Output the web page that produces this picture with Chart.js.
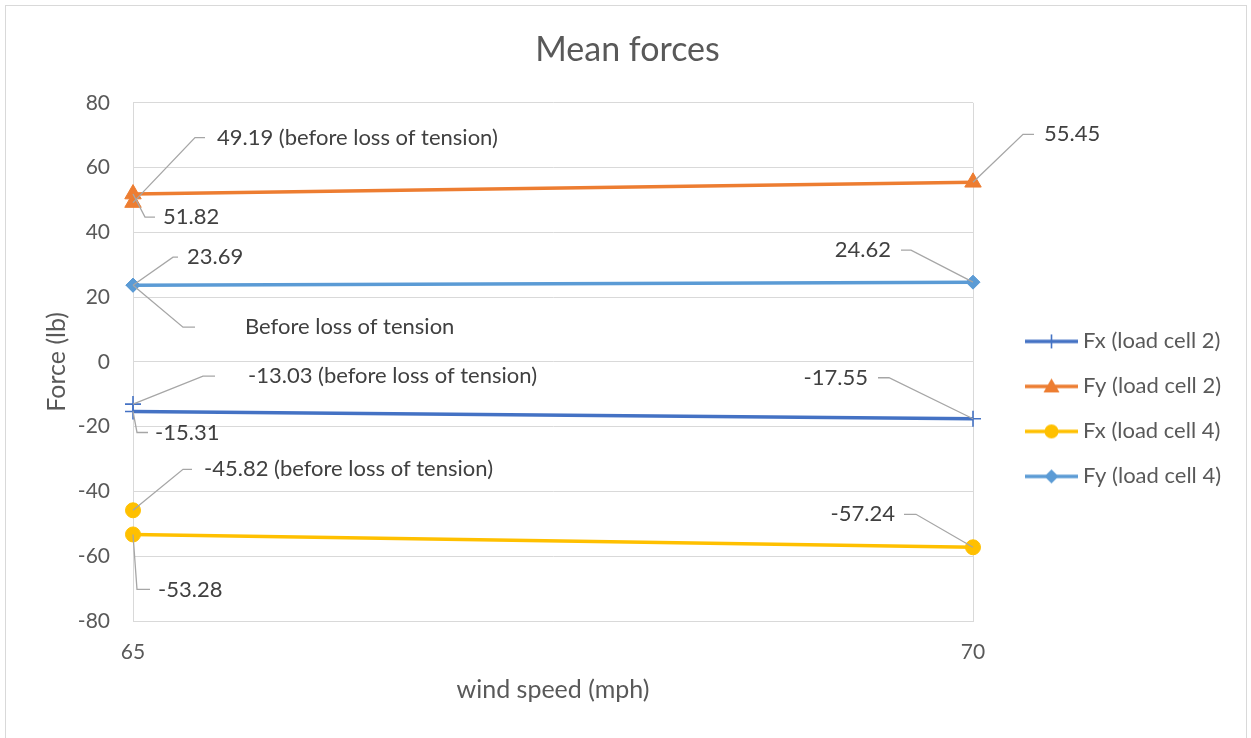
<!DOCTYPE html>
<html>
<head>
<meta charset="utf-8">
<script src="https://cdn.jsdelivr.net/npm/chart.js@4.4.1/dist/chart.umd.min.js"></script>
<style>
  html, body { margin: 0; padding: 0; background: #ffffff; }
  #wrap { width: 1251px; height: 738px; }
</style>
</head>
<body>
<div id="wrap"><canvas id="myChart" width="1251" height="738"></canvas></div>
<script>
//x categories (wind speed, mph)
const windSpeeds = ['65', '70'];

//Mean forces (lb) for each series
const fxCell2 = [-15.31, -17.55];
const fyCell2 = [51.82, 55.45];
const fxCell4 = [-53.28, -57.24];
const fyCell4 = [23.69, 24.62];

//Extra points measured before loss of tension (only at 65 mph)
const fxCell2Before = [-13.03, null];
const fyCell2Before = [49.19, null];
const fxCell4Before = [-45.82, null];
const fyCell4Before = [23.69, null];

//y axis range
const yMin = -80;
const yMax = 80;
const yStep = 20;

const FONT = "Lato, 'Open Sans', sans-serif";
const TEXT = '#404040';
const GREY = '#595959';
const GRID = '#d9d9d9';

//Series styling
const seriesStyle = {
    fx2: { color: '#4472C4', point: 'cross', radius: 8, pointBorder: 1.6 },
    fy2: { color: '#ED7D31', point: 'triangle', radius: 9.5, pointBorder: 1 },
    fx4: { color: '#FFC000', point: 'circle', radius: 7.5, pointBorder: 1 },
    fy4: { color: '#5B9BD5', point: 'rectRot', radius: 7, pointBorder: 1 }
};

function makeDataset(label, key, values, isBefore)
{
    const s = seriesStyle[key];
    return {
        label: label,
        key: key + (isBefore ? 'b' : ''),
        hideInLegend: isBefore,
        data: values,
        showLine: !isBefore,
        borderColor: s.color,
        backgroundColor: s.color,
        borderWidth: 3.5,
        pointStyle: s.point,
        pointRadius: s.radius,
        pointHoverRadius: s.radius,
        pointBorderWidth: s.pointBorder,
        pointBorderColor: s.color,
        pointBackgroundColor: s.color,
        tension: 0
    };
}

//Leader-line labels: where each elbow and text sit relative to its point
const leaderLabels = [
    { key: 'fy2b', i: 0, ex: 62, ey: -65, hx: 10, gap: 12, suffix: ' (before loss of tension)' },
    { key: 'fy2',  i: 0, ex: 12, ey: 23,  hx: 10, gap: 8 },
    { key: 'fy4',  i: 0, ex: 40, ey: -28, hx: 5,  gap: 9 },
    { key: 'fy4b', i: 0, ex: 50, ey: 42,  hx: 12, gap: 50, text: 'Before loss of tension' },
    { key: 'fx2b', i: 0, ex: 70, ey: -28, hx: 12, gap: 33, suffix: ' (before loss of tension)' },
    { key: 'fx2',  i: 0, ex: 4,  ey: 21,  hx: 11, gap: 7 },
    { key: 'fx4b', i: 0, ex: 50, ey: -41, hx: 9,  gap: 12, suffix: ' (before loss of tension)' },
    { key: 'fx4',  i: 0, ex: 4,  ey: 55,  hx: 13, gap: 8 },
    { key: 'fy2',  i: 1, ex: 50, ey: -48, hx: 11, gap: 10 },
    { key: 'fy4',  i: 1, ex: -62, ey: -32, hx: -10, gap: 10 },
    { key: 'fx2',  i: 1, ex: -84, ey: -41, hx: -11, gap: 10 },
    { key: 'fx4',  i: 1, ex: -57, ey: -33, hx: -12, gap: 9 }
];

//Build a small line+marker icon for the legend
function legendIcon(key)
{
    const s = seriesStyle[key];
    const c = document.createElement('canvas');
    c.width = 88;
    c.height = 22;
    const g = c.getContext('2d');
    const cy = 11, x0 = 35, x1 = 88, cx = (x0 + x1) / 2;
    g.strokeStyle = s.color;
    g.fillStyle = s.color;
    g.lineWidth = 3.5;
    g.beginPath();
    g.moveTo(x0, cy);
    g.lineTo(x1, cy);
    g.stroke();
    g.beginPath();
    if (s.point == 'cross')
    {
        g.lineWidth = 1.6;
        g.moveTo(cx, cy - 7);
        g.lineTo(cx, cy + 7);
        g.stroke();
    }
    else if (s.point == 'triangle')
    {
        g.moveTo(cx, cy - 8);
        g.lineTo(cx + 8, cy + 6);
        g.lineTo(cx - 8, cy + 6);
        g.closePath();
        g.fill();
    }
    else if (s.point == 'circle')
    {
        g.arc(cx, cy, 7, 0, Math.PI * 2);
        g.fill();
    }
    else
    {
        g.moveTo(cx, cy - 7);
        g.lineTo(cx + 7, cy);
        g.lineTo(cx, cy + 7);
        g.lineTo(cx - 7, cy);
        g.closePath();
        g.fill();
    }
    return c;
}

//Draws the leader lines and data labels
const leaderPlugin = {
    id: 'leaderLabels',
    afterDatasetsDraw(chart)
    {
        const ctx = chart.ctx;
        ctx.save();
        ctx.font = '22px ' + FONT;
        ctx.textBaseline = 'middle';
        leaderLabels.forEach(l => {
            const dsIndex = chart.data.datasets.findIndex(d => d.key == l.key);
            const el = chart.getDatasetMeta(dsIndex).data[l.i];
            const value = chart.data.datasets[dsIndex].data[l.i];
            const px = el.x, py = el.y;
            const ex = px + l.ex, ey = py + l.ey;
            const hx = ex + l.hx;
            ctx.strokeStyle = '#a6a6a6';
            ctx.lineWidth = 1.3;
            ctx.beginPath();
            ctx.moveTo(px, py);
            ctx.lineTo(ex, ey);
            ctx.lineTo(hx, ey);
            ctx.stroke();
            const txt = l.text ? l.text : value.toFixed(2) + (l.suffix || '');
            ctx.fillStyle = TEXT;
            if (l.hx >= 0)
            {
                ctx.textAlign = 'left';
                ctx.fillText(txt, hx + l.gap, ey);
            }
            else
            {
                ctx.textAlign = 'right';
                ctx.fillText(txt, hx - l.gap, ey);
            }
        });
        ctx.restore();
    }
};

//White background and thin outer frame
const framePlugin = {
    id: 'frame',
    beforeDraw(chart)
    {
        const ctx = chart.ctx;
        ctx.save();
        ctx.fillStyle = '#ffffff';
        ctx.fillRect(0, 0, chart.width, chart.height);
        ctx.strokeStyle = GRID;
        ctx.lineWidth = 1;
        ctx.strokeRect(5.5, 5.5, 1241, 745);
        ctx.restore();
    }
};

myChart();

function myChart()
{
    Chart.defaults.font.family = FONT;

    const ctx = document.getElementById('myChart').getContext('2d');

    const datasets = [
        makeDataset('Fx (load cell 2)', 'fx2', fxCell2, false),
        makeDataset('Fy (load cell 2)', 'fy2', fyCell2, false),
        makeDataset('Fx (load cell 4)', 'fx4', fxCell4, false),
        makeDataset('Fy (load cell 4)', 'fy4', fyCell4, false),
        makeDataset('Fx (load cell 2)', 'fx2', fxCell2Before, true),
        makeDataset('Fy (load cell 2)', 'fy2', fyCell2Before, true),
        makeDataset('Fx (load cell 4)', 'fx4', fxCell4Before, true),
        makeDataset('Fy (load cell 4)', 'fy4', fyCell4Before, true)
    ];

    const icons = datasets.map(d => legendIcon(d.key.replace('b', '')));

    new Chart(ctx, {
        type: 'line',
        data: {
            labels: windSpeeds,
            datasets: datasets
        },
        plugins: [framePlugin, leaderPlugin],
        options: {
            responsive: false,
            animation: false,
            events: [],
            layout: {
                padding: { left: 30, right: 26, top: 0, bottom: 0 }
            },
            scales: {
                x: {
                    type: 'category',
                    offset: false,
                    grid: { color: GRID, lineWidth: 1, drawTicks: false },
                    border: { color: GRID },
                    ticks: { color: GREY, font: { size: 21 }, padding: 19 },
                    title: {
                        display: true,
                        text: 'wind speed (mph)',
                        color: GREY,
                        font: { size: 25 },
                        padding: { top: 0, bottom: 33 }
                    },
                    afterFit: s => { s.height = 117; }
                },
                y: {
                    min: yMin,
                    max: yMax,
                    grid: { color: GRID, lineWidth: 1, drawTicks: false },
                    border: { color: GRID },
                    ticks: { stepSize: yStep, color: GREY, font: { size: 21 }, padding: 23 },
                    title: {
                        display: true,
                        text: 'Force (lb)',
                        color: GREY,
                        font: { size: 25 },
                        padding: { top: 12, bottom: 0 }
                    },
                    afterFit: s => { s.width = 103; }
                }
            },
            plugins: {
                title: {
                    display: true,
                    text: 'Mean forces',
                    color: GREY,
                    font: { size: 34, weight: 'normal' },
                    padding: { top: 30, bottom: 32 }
                },
                legend: {
                    position: 'right',
                    fullSize: false,
                    maxWidth: 252,
                    title: {
                        display: true,
                        text: ' ',
                        font: { size: 10 },
                        padding: { top: 0, bottom: 82 }
                    },
                    labels: {
                        usePointStyle: true,
                        pointStyleWidth: 76,
                        padding: 23,
                        color: GREY,
                        font: { size: 22 },
                        generateLabels: chart => {
                            const items = Chart.defaults.plugins.legend.labels.generateLabels(chart);
                            return items
                                .filter(it => !chart.data.datasets[it.datasetIndex].hideInLegend)
                                .map(it => Object.assign(it, { pointStyle: icons[it.datasetIndex] }));
                        }
                    }
                },
                tooltip: { enabled: false }
            }
        }
    });
}
</script>
</body>
</html>
